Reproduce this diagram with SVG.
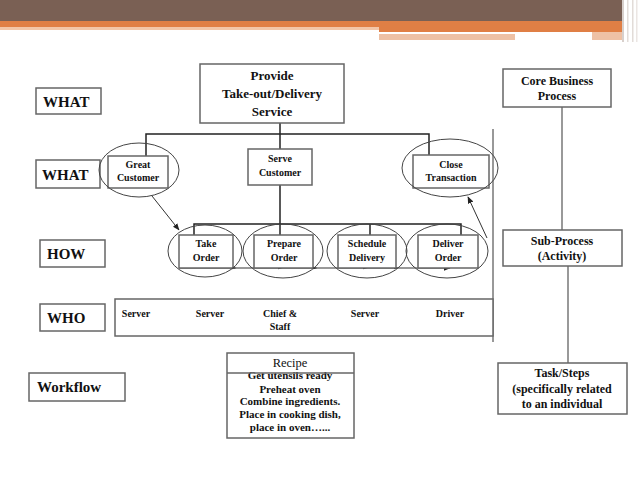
<svg xmlns="http://www.w3.org/2000/svg" width="640" height="480" viewBox="0 0 640 480">
<defs>
<marker id="ah" viewBox="0 0 10 10" refX="9" refY="5" markerWidth="7" markerHeight="7" orient="auto" markerUnits="userSpaceOnUse"><path d="M0,1 L10,5 L0,9 z" fill="#222"/></marker>
<marker id="sm" viewBox="0 0 10 10" refX="9" refY="5" markerWidth="5" markerHeight="5" orient="auto" markerUnits="userSpaceOnUse"><path d="M0,2 L10,5 L0,8 z" fill="#222"/></marker>
</defs>
<style>
.box{fill:#fff;stroke:#666;stroke-width:1.5}
.ell{fill:none;stroke:#444;stroke-width:1}
.con{fill:none;stroke:#222;stroke-width:1.5}
.thin{fill:none;stroke:#333;stroke-width:1}
.gl{fill:none;stroke:#777;stroke-width:1.5}
text{font-family:"Liberation Serif","Times New Roman",serif;font-weight:bold;fill:#111}
.big{font-size:15px}
.mid{font-size:13px;text-anchor:middle}
.m12{font-size:12px;text-anchor:middle}
.sm{font-size:10px;text-anchor:middle}
.rc{font-size:11px;text-anchor:middle}
</style>
<rect width="640" height="480" fill="#fff"/>
<g id="header">
<rect x="0" y="0" width="622" height="21" fill="#7A6054"/>
<rect x="0" y="21" width="379" height="6" fill="#E07F45"/>
<rect x="0" y="27" width="379" height="3" fill="#F3C6A8"/>
<rect x="379" y="21" width="243" height="11" fill="#E07F45"/>
<rect x="379" y="34" width="136" height="6" fill="#EEC1A5"/>
<rect x="592" y="32" width="30" height="8" fill="#EEC1A5"/>
<rect x="622" y="0" width="2" height="42" fill="#d8d0cc"/>
<rect x="627" y="0" width="1.5" height="42" fill="#e2dcd8"/>
<rect x="632" y="0" width="1.5" height="42" fill="#e2dcd8"/>
<rect x="636" y="0" width="1.5" height="42" fill="#ebe6e3"/>
</g>
<g id="connectors">
<polyline class="con" points="146,156 146,134 429,134 429,155"/>
<line class="con" x1="280" y1="123" x2="280" y2="149"/>
<line class="con" x1="280" y1="185" x2="280" y2="235"/>
<polyline class="con" points="194,235 194,224 461,224 461,235"/>
<line class="con" x1="370" y1="224" x2="370" y2="235"/>
<line class="thin" x1="152" y1="196" x2="179" y2="230" marker-end="url(#ah)"/>
<line class="thin" x1="487" y1="238" x2="468" y2="197" marker-end="url(#ah)"/>
<line class="thin" x1="179" y1="268" x2="236" y2="268" marker-end="url(#sm)"/>
<line class="thin" x1="236" y1="268" x2="282" y2="268" marker-end="url(#sm)"/>
<line class="thin" x1="282" y1="268" x2="317" y2="268" marker-end="url(#sm)"/>
<line class="thin" x1="317" y1="268" x2="367" y2="268" marker-end="url(#sm)"/>
<line class="thin" x1="367" y1="268" x2="398" y2="268" marker-end="url(#sm)"/>
<line class="thin" x1="398" y1="268" x2="450" y2="268" marker-end="url(#ah)"/>
<line class="thin" x1="493" y1="129" x2="493" y2="342"/>
<line class="gl" x1="562" y1="107" x2="562" y2="230"/>
<line class="gl" x1="568" y1="266" x2="568" y2="363"/>
</g>
<g id="what1"><rect class="box" x="36" y="88" width="65" height="26"/><text class="big" x="43" y="107">WHAT</text></g>
<g id="what2"><rect class="box" x="36" y="160" width="64" height="28"/><text class="big" x="42" y="180">WHAT</text></g>
<g id="how"><rect class="box" x="40" y="240" width="65" height="27"/><text class="big" x="47" y="259">HOW</text></g>
<g id="who"><rect class="box" x="40" y="304" width="65" height="27"/><text class="big" x="47" y="323">WHO</text></g>
<g id="workflow"><rect class="box" x="29" y="373" width="96" height="28"/><text class="big" x="37" y="392">Workflow</text></g>
<g id="provide"><rect class="box" x="200" y="64" width="144" height="59"/>
<text class="mid" x="272" y="80">Provide</text><text class="mid" x="272" y="98">Take-out/Delivery</text><text class="mid" x="272" y="116">Service</text></g>
<g id="great"><rect class="box" x="108" y="156" width="60" height="32"/><ellipse class="ell" cx="139" cy="170" rx="40" ry="27"/>
<text class="sm" x="138" y="168">Great</text><text class="sm" x="138" y="181">Customer</text></g>
<g id="serve"><rect class="box" x="248" y="149" width="64" height="36"/>
<text class="sm" x="280" y="162">Serve</text><text class="sm" x="280" y="176">Customer</text></g>
<g id="close"><rect class="box" x="413" y="155" width="76" height="33"/><ellipse class="ell" cx="450" cy="168" rx="48" ry="29"/>
<text class="sm" x="451" y="168">Close</text><text class="sm" x="451" y="181">Transaction</text></g>
<g id="take"><rect class="box" x="179" y="235" width="54" height="33"/><ellipse class="ell" cx="205" cy="251" rx="37" ry="26"/>
<text class="sm" x="206" y="247">Take</text><text class="sm" x="206" y="261">Order</text></g>
<g id="prepare"><rect class="box" x="254" y="235" width="59" height="33"/><ellipse class="ell" cx="283" cy="251" rx="40" ry="27"/>
<text class="sm" x="284" y="247">Prepare</text><text class="sm" x="284" y="261">Order</text></g>
<g id="schedule"><rect class="box" x="338" y="235" width="58" height="33"/><ellipse class="ell" cx="367" cy="251" rx="40" ry="27"/>
<text class="sm" x="367" y="247">Schedule</text><text class="sm" x="367" y="261">Delivery</text></g>
<g id="deliver"><rect class="box" x="418" y="235" width="60" height="33"/><ellipse class="ell" cx="447" cy="251" rx="41" ry="27"/>
<text class="sm" x="448" y="247">Deliver</text><text class="sm" x="448" y="261">Order</text></g>
<g id="whorow"><rect class="box" x="115" y="299" width="378" height="37"/>
<text class="sm" x="136" y="317">Server</text><text class="sm" x="210" y="317">Server</text>
<text class="sm" x="280" y="317">Chief &amp;</text><text class="sm" x="280" y="330">Staff</text>
<text class="sm" x="365" y="317">Server</text><text class="sm" x="450" y="317">Driver</text></g>
<g id="recipe"><rect class="box" x="227" y="353" width="127" height="85"/>
<text x="290" y="367" style="font-size:12.5px;text-anchor:middle;font-weight:normal">Recipe</text>
<text class="rc" x="290" y="379">Get utensils ready</text>
<line x1="227" y1="373" x2="354" y2="373" stroke="#666" stroke-width="1.5"/>
<text class="rc" x="290" y="393">Preheat oven</text>
<text class="rc" x="290" y="405">Combine ingredients.</text>
<text class="rc" x="290" y="418">Place in cooking dish,</text>
<text class="rc" x="290" y="431">place in oven…...</text></g>
<g id="core"><rect class="box" x="503" y="69" width="108" height="38"/>
<text class="m12" x="557" y="85">Core Business</text><text class="m12" x="557" y="100">Process</text></g>
<g id="subprocess"><rect class="box" x="503" y="230" width="119" height="36"/>
<text class="m12" x="562" y="245">Sub-Process</text><text class="m12" x="562" y="260">(Activity)</text></g>
<g id="task"><rect class="box" x="498" y="363" width="129" height="51"/>
<text class="m12" x="562" y="377">Task/Steps</text><text class="m12" x="562" y="393">(specifically related</text><text class="m12" x="562" y="408">to an individual</text></g>
</svg>
